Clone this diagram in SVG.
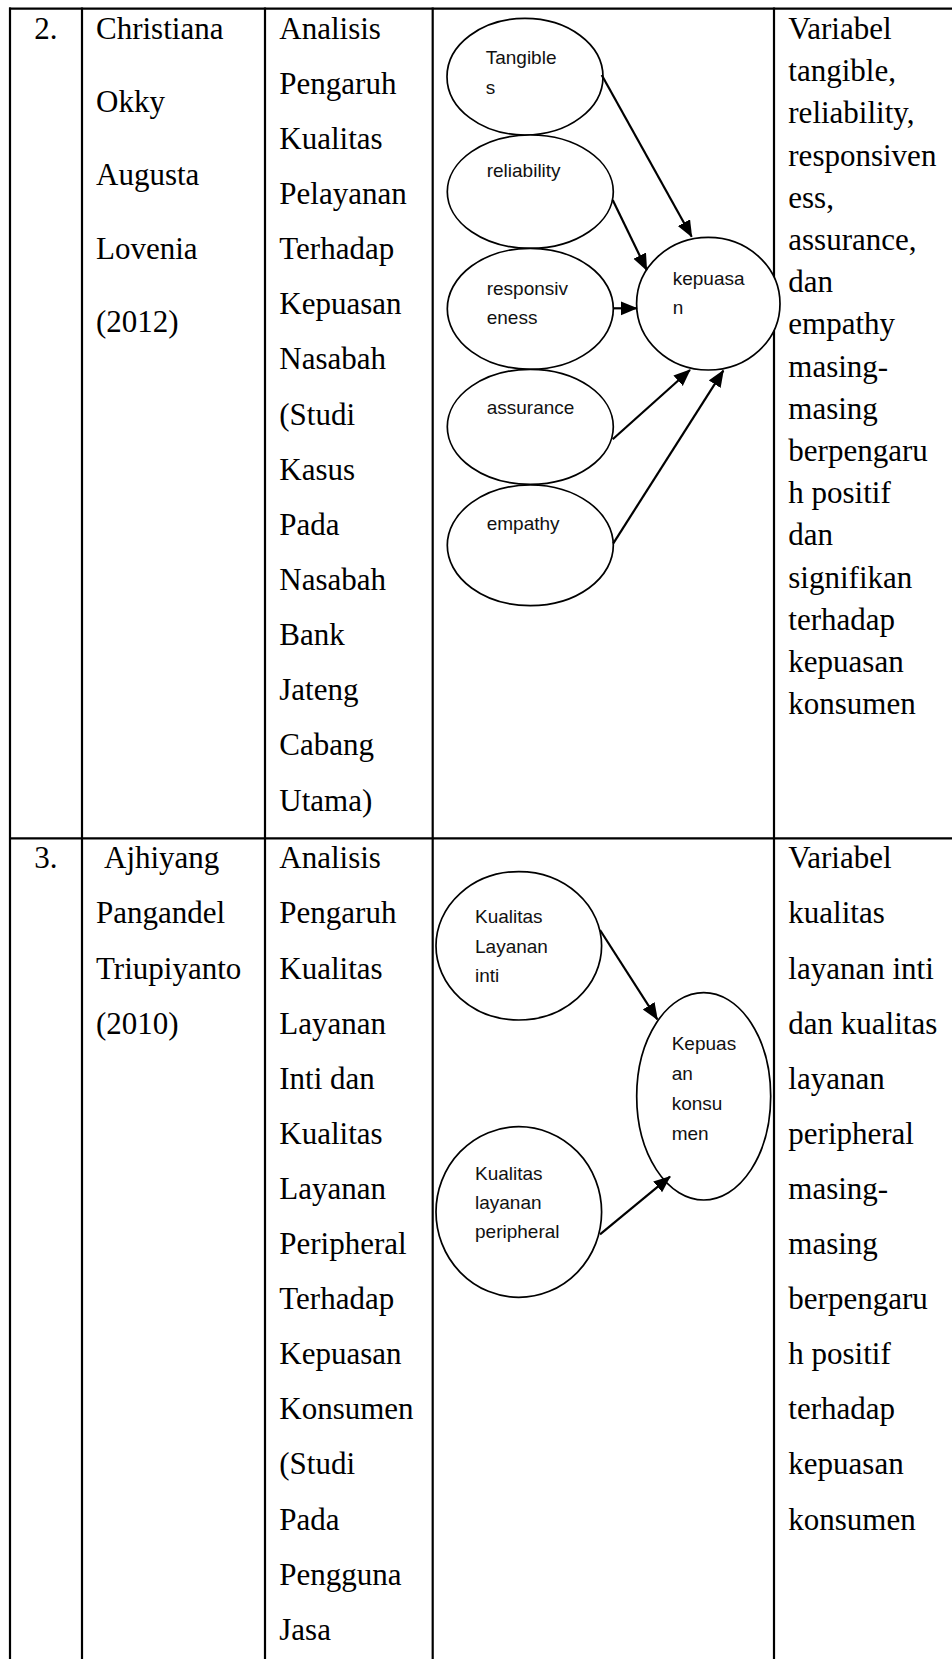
<svg xmlns="http://www.w3.org/2000/svg" width="952" height="1659" viewBox="0 0 952 1659">
<style>
.t{font-family:"Liberation Serif","Times New Roman",serif;font-size:31px;fill:#000}
.s{font-family:"Liberation Sans",Arial,sans-serif;font-size:19px;fill:#111}
.grid{stroke:#000;stroke-width:2.2;fill:none}
.node{fill:#fff;stroke:#000;stroke-width:1.7}
.conn{stroke:#000;stroke-width:2.2;fill:none;marker-end:url(#ah)}
</style>
<defs>
<marker id="ah" markerUnits="userSpaceOnUse" markerWidth="18" markerHeight="15" refX="16" refY="7" orient="auto">
<path d="M0,0 L17,7 L0,14 Z" fill="#000"/>
</marker>
</defs>
<rect width="952" height="1659" fill="#fff"/>
<g id="table" class="grid">
<line x1="9" y1="8.7" x2="952" y2="8.7"/>
<line x1="10" y1="7.6" x2="10" y2="1659"/>
<line x1="82" y1="7.6" x2="82" y2="1659"/>
<line x1="265" y1="7.6" x2="265" y2="1659"/>
<line x1="432.7" y1="7.6" x2="432.7" y2="1659"/>
<line x1="774" y1="7.6" x2="774" y2="1659"/>
<line x1="9" y1="838.3" x2="952" y2="838.3"/>
</g>
<g id="row1-text" class="t">
<text x="34.3" y="38.5">2.</text>
<text><tspan x="96" y="38.5">Christiana</tspan><tspan x="96" y="111.9">Okky</tspan><tspan x="96" y="185.3">Augusta</tspan><tspan x="96" y="258.7">Lovenia</tspan><tspan x="96" y="332.1">(2012)</tspan></text>
<text><tspan x="279.3" y="38.5">Analisis</tspan><tspan x="279.3" y="93.65">Pengaruh</tspan><tspan x="279.3" y="148.8">Kualitas</tspan><tspan x="279.3" y="203.95">Pelayanan</tspan><tspan x="279.3" y="259.1">Terhadap</tspan><tspan x="279.3" y="314.25">Kepuasan</tspan><tspan x="279.3" y="369.4">Nasabah</tspan><tspan x="279.3" y="424.55">(Studi</tspan><tspan x="279.3" y="479.7">Kasus</tspan><tspan x="279.3" y="534.85">Pada</tspan><tspan x="279.3" y="590">Nasabah</tspan><tspan x="279.3" y="645.15">Bank</tspan><tspan x="279.3" y="700.3">Jateng</tspan><tspan x="279.3" y="755.45">Cabang</tspan><tspan x="279.3" y="810.6">Utama)</tspan></text>
<text><tspan x="788.3" y="39">Variabel</tspan><tspan x="788.3" y="81.2">tangible,</tspan><tspan x="788.3" y="123.4">reliability,</tspan><tspan x="788.3" y="165.6">responsiven</tspan><tspan x="788.3" y="207.8">ess,</tspan><tspan x="788.3" y="250">assurance,</tspan><tspan x="788.3" y="292.2">dan</tspan><tspan x="788.3" y="334.4">empathy</tspan><tspan x="788.3" y="376.6">masing-</tspan><tspan x="788.3" y="418.8">masing</tspan><tspan x="788.3" y="461">berpengaru</tspan><tspan x="788.3" y="503.2">h positif</tspan><tspan x="788.3" y="545.4">dan</tspan><tspan x="788.3" y="587.6">signifikan</tspan><tspan x="788.3" y="629.8">terhadap</tspan><tspan x="788.3" y="672">kepuasan</tspan><tspan x="788.3" y="714.2">konsumen</tspan></text>
</g>
<g id="row2-text" class="t">
<text x="34.3" y="868.3">3.</text>
<text><tspan x="104" y="868.3">Ajhiyang</tspan><tspan x="96" y="923.4">Pangandel</tspan><tspan x="96" y="978.5">Triupiyanto</tspan><tspan x="96" y="1033.6">(2010)</tspan></text>
<text><tspan x="279.3" y="868.3">Analisis</tspan><tspan x="279.3" y="923.4">Pengaruh</tspan><tspan x="279.3" y="978.5">Kualitas</tspan><tspan x="279.3" y="1033.6">Layanan</tspan><tspan x="279.3" y="1088.7">Inti dan</tspan><tspan x="279.3" y="1143.8">Kualitas</tspan><tspan x="279.3" y="1198.9">Layanan</tspan><tspan x="279.3" y="1254">Peripheral</tspan><tspan x="279.3" y="1309.1">Terhadap</tspan><tspan x="279.3" y="1364.2">Kepuasan</tspan><tspan x="279.3" y="1419.3">Konsumen</tspan><tspan x="279.3" y="1474.4">(Studi</tspan><tspan x="279.3" y="1529.5">Pada</tspan><tspan x="279.3" y="1584.6">Pengguna</tspan><tspan x="279.3" y="1639.7">Jasa</tspan></text>
<text><tspan x="788.3" y="868.3">Variabel</tspan><tspan x="788.3" y="923.4">kualitas</tspan><tspan x="788.3" y="978.5">layanan inti</tspan><tspan x="788.3" y="1033.6">dan kualitas</tspan><tspan x="788.3" y="1088.7">layanan</tspan><tspan x="788.3" y="1143.8">peripheral</tspan><tspan x="788.3" y="1198.9">masing-</tspan><tspan x="788.3" y="1254">masing</tspan><tspan x="788.3" y="1309.1">berpengaru</tspan><tspan x="788.3" y="1364.2">h positif</tspan><tspan x="788.3" y="1419.3">terhadap</tspan><tspan x="788.3" y="1474.4">kepuasan</tspan><tspan x="788.3" y="1529.5">konsumen</tspan></text>
</g>
<g id="n-tangibles">
<ellipse class="node" cx="525" cy="76.7" rx="78" ry="58.3"/>
<text class="s"><tspan x="485.7" y="64">Tangible</tspan><tspan x="485.7" y="93.5">s</tspan></text>
</g>
<g id="n-reliability">
<ellipse class="node" cx="530.3" cy="191.7" rx="83" ry="56.7"/>
<text class="s" x="486.7" y="177">reliability</text>
</g>
<g id="n-responsiveness">
<ellipse class="node" cx="530.3" cy="308.8" rx="83" ry="60.5"/>
<text class="s"><tspan x="486.7" y="295">responsiv</tspan><tspan x="486.7" y="323.5">eness</tspan></text>
</g>
<g id="n-assurance">
<ellipse class="node" cx="530.3" cy="426.8" rx="83" ry="57.5"/>
<text class="s" x="486.7" y="414">assurance</text>
</g>
<g id="n-empathy">
<ellipse class="node" cx="530.3" cy="545.3" rx="83" ry="60.3"/>
<text class="s" x="486.7" y="530">empathy</text>
</g>
<g id="n-kepuasan">
<ellipse class="node" cx="708.3" cy="303.7" rx="71.7" ry="66.3"/>
<text class="s"><tspan x="672.7" y="285">kepuasa</tspan><tspan x="672.7" y="313.5">n</tspan></text>
</g>
<g id="n-inti">
<ellipse class="node" cx="518.8" cy="945.8" rx="82.8" ry="74.2"/>
<text class="s"><tspan x="475" y="923.3">Kualitas</tspan><tspan x="475" y="952.5">Layanan</tspan><tspan x="475" y="981.7">inti</tspan></text>
</g>
<g id="n-kepuasan-konsumen">
<ellipse class="node" cx="703.7" cy="1096.3" rx="67" ry="103.7"/>
<text class="s"><tspan x="671.7" y="1050">Kepuas</tspan><tspan x="671.7" y="1080">an</tspan><tspan x="671.7" y="1110">konsu</tspan><tspan x="671.7" y="1140">men</tspan></text>
</g>
<g id="n-peripheral">
<ellipse class="node" cx="518.8" cy="1212" rx="82.8" ry="85.3"/>
<text class="s"><tspan x="475" y="1180">Kualitas</tspan><tspan x="475" y="1209">layanan</tspan><tspan x="475" y="1238">peripheral</tspan></text>
</g>
<g id="connectors" class="conn">
<line x1="601.7" y1="75" x2="691.7" y2="236.7"/>
<line x1="612.7" y1="200" x2="646.7" y2="270"/>
<line x1="613.3" y1="308.3" x2="636.7" y2="308.3"/>
<line x1="612.7" y1="439.3" x2="690" y2="370"/>
<line x1="613.3" y1="543.3" x2="723.3" y2="370.7"/>
<line x1="600" y1="930" x2="657.3" y2="1019.3"/>
<line x1="600" y1="1234.3" x2="670" y2="1176.7"/>
</g>
</svg>
